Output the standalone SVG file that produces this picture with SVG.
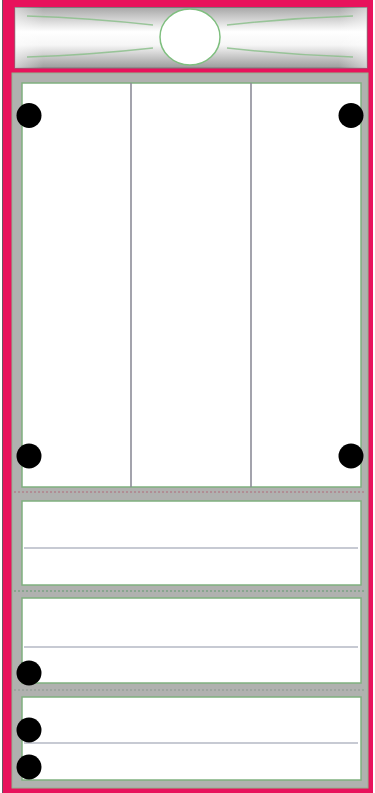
<svg xmlns="http://www.w3.org/2000/svg" width="375" height="793" viewBox="0 0 375 793">
<defs>
<linearGradient id="hdr" x1="0" y1="0" x2="0" y2="1">
<stop offset="0" stop-color="#a8a8a8"/>
<stop offset="0.4" stop-color="#ffffff"/>
<stop offset="0.62" stop-color="#f6f6f6"/>
<stop offset="1" stop-color="#9c9c9c"/>
</linearGradient>
<linearGradient id="hdrx" x1="0" y1="0" x2="1" y2="0">
<stop offset="0" stop-color="#ffffff" stop-opacity="0.5"/>
<stop offset="0.08" stop-color="#ffffff" stop-opacity="0"/>
<stop offset="0.92" stop-color="#ffffff" stop-opacity="0"/>
<stop offset="1" stop-color="#ffffff" stop-opacity="0.5"/>
</linearGradient>
</defs>
<style>
.panel{fill:#ffffff;stroke:#7fb07f;stroke-width:1.5}
.rule{stroke:#b4b8c4;stroke-width:1.5}
.div{stroke:#8c8c98;stroke-width:1.6}
.dot{fill:#000000}
.ray{stroke:#8cc08c;stroke-width:1.4;fill:none;opacity:0.85}
.sep{stroke-width:1.2;stroke-dasharray:2 2}
</style>
<rect x="0" y="0" width="375" height="793" fill="#ffffff"/>
<g id="frame">
<rect x="3" y="0" width="370" height="793" fill="#e8125c"/>
<line x1="2.5" y1="0" x2="2.5" y2="793" stroke="#6a5560" stroke-width="1"/>
<rect x="12" y="73" width="356" height="715" fill="#b0b1af" stroke="#8fb58f" stroke-width="1"/>
</g>
<g id="header">
<rect x="15" y="7.5" width="352" height="60.5" fill="url(#hdr)" stroke="#7a7a7a" stroke-width="1"/>
<rect x="15" y="7.5" width="352" height="60.5" fill="url(#hdrx)"/>
<path class="ray" d="M27 16 Q90 18 153 25"/>
<path class="ray" d="M27 57 Q90 55 153 48"/>
<path class="ray" d="M353 16 Q290 18 227 25"/>
<path class="ray" d="M353 57 Q290 55 227 48"/>
<ellipse cx="190" cy="37" rx="30" ry="28" fill="#ffffff" stroke="#7fbf7f" stroke-width="1.5"/>
</g>
<g id="main-panel">
<rect class="panel" x="22" y="83" width="339" height="404"/>
<line class="div" x1="131" y1="83" x2="131" y2="487"/>
<line class="div" x1="251" y1="83" x2="251" y2="487"/>
<circle class="dot" cx="29" cy="115.5" r="12.5"/>
<circle class="dot" cx="351" cy="115.5" r="12.5"/>
<circle class="dot" cx="29" cy="456" r="12.5"/>
<circle class="dot" cx="351" cy="456" r="12.5"/>
</g>
<g id="panel-2">
<rect class="panel" x="22" y="501" width="339" height="84"/>
<line class="rule" x1="24" y1="548" x2="358" y2="548"/>
</g>
<g id="panel-3">
<rect class="panel" x="22" y="598" width="339" height="85"/>
<line class="rule" x1="24" y1="647" x2="358" y2="647"/>
<circle class="dot" cx="29" cy="673" r="12.5"/>
</g>
<g id="panel-4">
<rect class="panel" x="22" y="697" width="339" height="83"/>
<line class="rule" x1="24" y1="743" x2="358" y2="743"/>
<circle class="dot" cx="29" cy="730" r="12.5"/>
<circle class="dot" cx="29" cy="767" r="12.5"/>
</g>
<g id="connectors">
<line class="sep" x1="14" y1="492" x2="366" y2="492" stroke="#b06a7a"/>
<line class="sep" x1="14" y1="591" x2="366" y2="591" stroke="#5f9a6f"/>
<line class="sep" x1="14" y1="690" x2="366" y2="690" stroke="#8a9a8f"/>
</g>
</svg>
